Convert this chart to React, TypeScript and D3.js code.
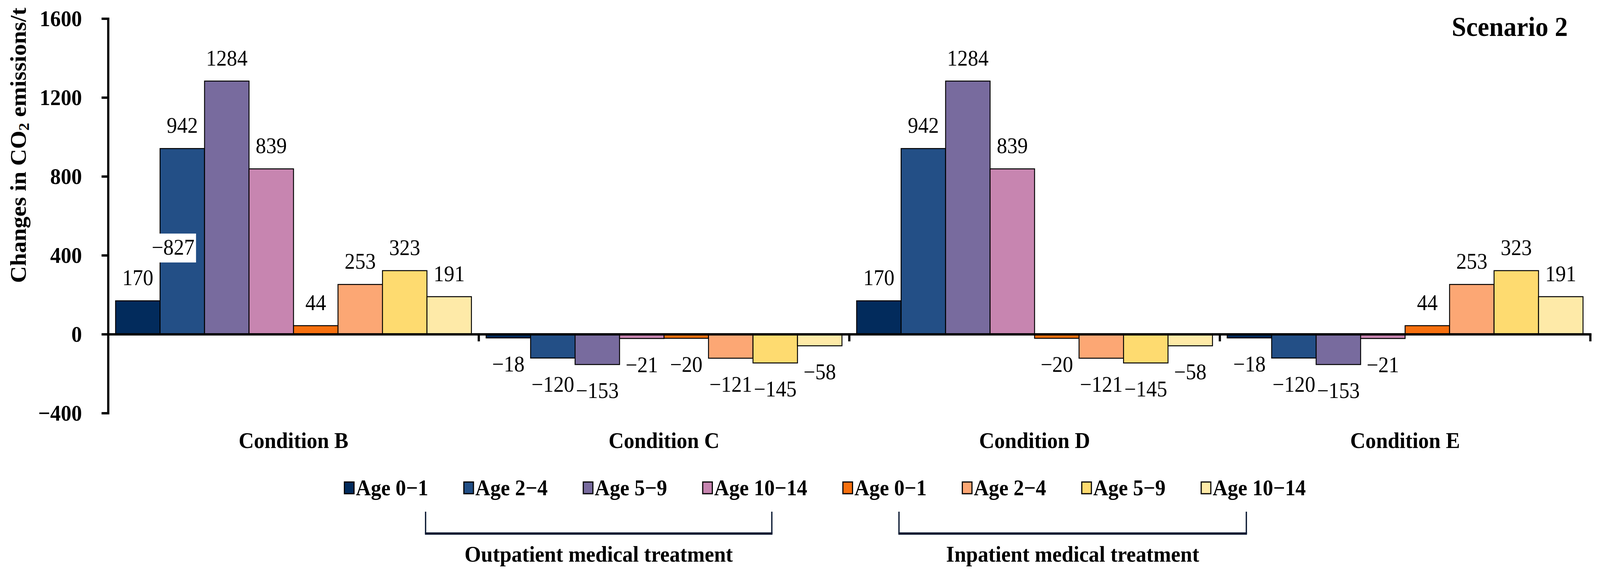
import React, { useEffect, useRef } from 'react';
import * as d3 from 'd3';

const categories = ['Condition B', 'Condition C', 'Condition D', 'Condition E'];
const seriesNames = ['Age 0−1', 'Age 2−4', 'Age 5−9', 'Age 10−14', 'Age 0−1', 'Age 2−4', 'Age 5−9', 'Age 10−14'];
const seriesColors = ['#022b5c', '#234f86', '#786b9e', '#c785b0', '#f7700f', '#fca774', '#fedb70', '#feeaa8'];

const conditionB = [170, 942, 1284, 839, 44, 253, 323, 191];
const conditionC = [-18, -120, -153, -21, -20, -121, -145, -58];
const conditionD = [170, 942, 1284, 839, -20, -121, -145, -58];
const conditionE = [-18, -120, -153, -21, 44, 253, 323, 191];
const valuesByCondition = [conditionB, conditionC, conditionD, conditionE];

const yTicks = [-400, 0, 400, 800, 1200, 1600];
const groupNames = ['Outpatient medical treatment', 'Inpatient medical treatment'];

// leftover label that sits on the Condition B / Age 2-4 bar in the original
const strayLabel = { text: '−827', category: 'Condition B', series: 1, value: 404 };

const W = 4316;
const H = 1467;
const FONT = '"Liberation Serif", "Times New Roman", serif';

const fmt = (v: number) => (v < 0 ? `−${Math.abs(v)}` : `${v}`);

export default function App() {
  const svgRef = useRef<SVGSVGElement>(null);

  useEffect(() => {
    if (!svgRef.current) return;
    const svg = d3.select(svgRef.current);
    svg.selectAll('*').remove();

    const axisX = 292;
    const plotRight = 4290;

    const x0 = d3.scaleBand<string>().domain(categories).range([axisX, plotRight]).padding(0);
    const x1 = d3
      .scaleBand<number>()
      .domain(d3.range(seriesNames.length))
      .range([0, x0.bandwidth()])
      .paddingInner(0)
      .paddingOuter(0.165);
    const y = d3.scaleLinear().domain([-400, 1600]).range([1058, 48]);

    // bars
    const bars = svg.append('g');
    categories.forEach((cat, ci) => {
      const g = bars.append('g').attr('transform', `translate(${x0(cat)},0)`);
      g.selectAll('rect')
        .data(valuesByCondition[ci])
        .enter()
        .append('rect')
        .attr('x', (_, i) => x1(i)!)
        .attr('width', x1.bandwidth())
        .attr('y', (d) => y(Math.max(0, d)))
        .attr('height', (d) => Math.abs(y(d) - y(0)))
        .attr('fill', (_, i) => seriesColors[i])
        .attr('stroke', '#000')
        .attr('stroke-width', 2.5);

      g.selectAll('text')
        .data(valuesByCondition[ci])
        .enter()
        .append('text')
        .attr('x', (_, i) => x1(i)! + x1.bandwidth() / 2)
        .attr('y', (d) => (d >= 0 ? y(d) - 40 : y(d) + 86))
        .attr('text-anchor', 'middle')
        .attr('font-family', FONT)
        .attr('font-size', 56)
        .attr('fill', '#000')
        .text((d) => fmt(d));
    });

    // stray label with white box
    {
      const cx = x0(strayLabel.category)! + x1(strayLabel.series)! + x1.bandwidth() / 2 - 25;
      const by = y(strayLabel.value);
      svg.append('rect').attr('x', cx - 62).attr('y', by - 54).attr('width', 124).attr('height', 74).attr('fill', '#fff');
      svg
        .append('text')
        .attr('x', cx)
        .attr('y', by)
        .attr('text-anchor', 'middle')
        .attr('font-family', FONT)
        .attr('font-size', 56)
        .text(strayLabel.text);
    }

    // zero line (x axis)
    svg
      .append('line')
      .attr('x1', axisX)
      .attr('x2', plotRight + 3)
      .attr('y1', y(0))
      .attr('y2', y(0))
      .attr('stroke', '#000')
      .attr('stroke-width', 6);
    // category boundary ticks
    svg
      .append('g')
      .selectAll('line')
      .data(categories)
      .enter()
      .append('line')
      .attr('x1', (d) => x0(d)! + x0.bandwidth())
      .attr('x2', (d) => x0(d)! + x0.bandwidth())
      .attr('y1', y(0))
      .attr('y2', y(0) + 18)
      .attr('stroke', '#000')
      .attr('stroke-width', 6);

    // y axis
    svg
      .append('line')
      .attr('x1', axisX)
      .attr('x2', axisX)
      .attr('y1', y(1600) - 3)
      .attr('y2', y(-400) + 3)
      .attr('stroke', '#000')
      .attr('stroke-width', 6);
    const yt = svg.append('g');
    yt.selectAll('line')
      .data(yTicks)
      .enter()
      .append('line')
      .attr('x1', axisX - 18)
      .attr('x2', axisX)
      .attr('y1', (d) => y(d))
      .attr('y2', (d) => y(d))
      .attr('stroke', '#000')
      .attr('stroke-width', 6);
    yt.selectAll('text')
      .data(yTicks)
      .enter()
      .append('text')
      .attr('x', 221)
      .attr('y', (d) => y(d) + 19)
      .attr('text-anchor', 'end')
      .attr('font-family', FONT)
      .attr('font-weight', 700)
      .attr('font-size', 57)
      .text((d) => fmt(d));

    // y title
    const title = svg
      .append('text')
      .attr('transform', `translate(70, 372) rotate(-90)`)
      .attr('text-anchor', 'middle')
      .attr('font-family', FONT)
      .attr('font-weight', 700)
      .attr('font-size', 60);
    title.append('tspan').text('Changes in CO');
    title.append('tspan').attr('font-size', 40).attr('dy', 8).text('2');
    title.append('tspan').attr('dy', -8).text(' emissions/t');

    // category labels
    svg
      .append('g')
      .selectAll('text')
      .data(categories)
      .enter()
      .append('text')
      .attr('x', (d) => x0(d)! + x0.bandwidth() / 2)
      .attr('y', 1147)
      .attr('text-anchor', 'middle')
      .attr('font-family', FONT)
      .attr('font-weight', 700)
      .attr('font-size', 57)
      .text((d) => d);

    // scenario label
    svg
      .append('text')
      .attr('x', 4229)
      .attr('y', 92)
      .attr('text-anchor', 'end')
      .attr('font-family', FONT)
      .attr('font-weight', 700)
      .attr('font-size', 70)
      .text('Scenario 2');

    // legend
    const legend = svg.append('g');
    let lx = 929;
    seriesNames.forEach((name, i) => {
      legend
        .append('rect')
        .attr('x', lx)
        .attr('y', 1234)
        .attr('width', 26)
        .attr('height', 30)
        .attr('fill', seriesColors[i])
        .attr('stroke', '#000')
        .attr('stroke-width', 3);
      const t = legend
        .append('text')
        .attr('x', lx + 31)
        .attr('y', 1268)
        .attr('font-family', FONT)
        .attr('font-weight', 700)
        .attr('font-size', 56)
        .text(name);
      const tw = (t.node() as SVGTextElement).getComputedTextLength();
      lx = lx + 31 + tw + 96;
    });

    // group brackets
    const bracketSpans = [
      [1148, 2082],
      [2425, 3362],
    ];
    groupNames.forEach((name, i) => {
      const [a, b] = bracketSpans[i];
      const br = svg.append('g').attr('stroke', '#0b1a33').attr('fill', 'none');
      br.append('path').attr('d', `M${a},1310 V1366 M${b},1310 V1366`).attr('stroke-width', 3.5);
      br.append('line').attr('x1', a - 1.75).attr('x2', b + 1.75).attr('y1', 1366).attr('y2', 1366).attr('stroke-width', 6);
      svg
        .append('text')
        .attr('x', (a + b) / 2)
        .attr('y', 1438)
        .attr('text-anchor', 'middle')
        .attr('font-family', FONT)
        .attr('font-weight', 700)
        .attr('font-size', 57)
        .text(name);
    });
  }, []);

  return (
    <svg
      ref={svgRef}
      viewBox={`0 0 ${W} ${H}`}
      preserveAspectRatio="none"
      style={{ position: 'fixed', left: 0, top: 0, width: '100%', height: '100%', display: 'block', background: '#fff' }}
    />
  );
}
